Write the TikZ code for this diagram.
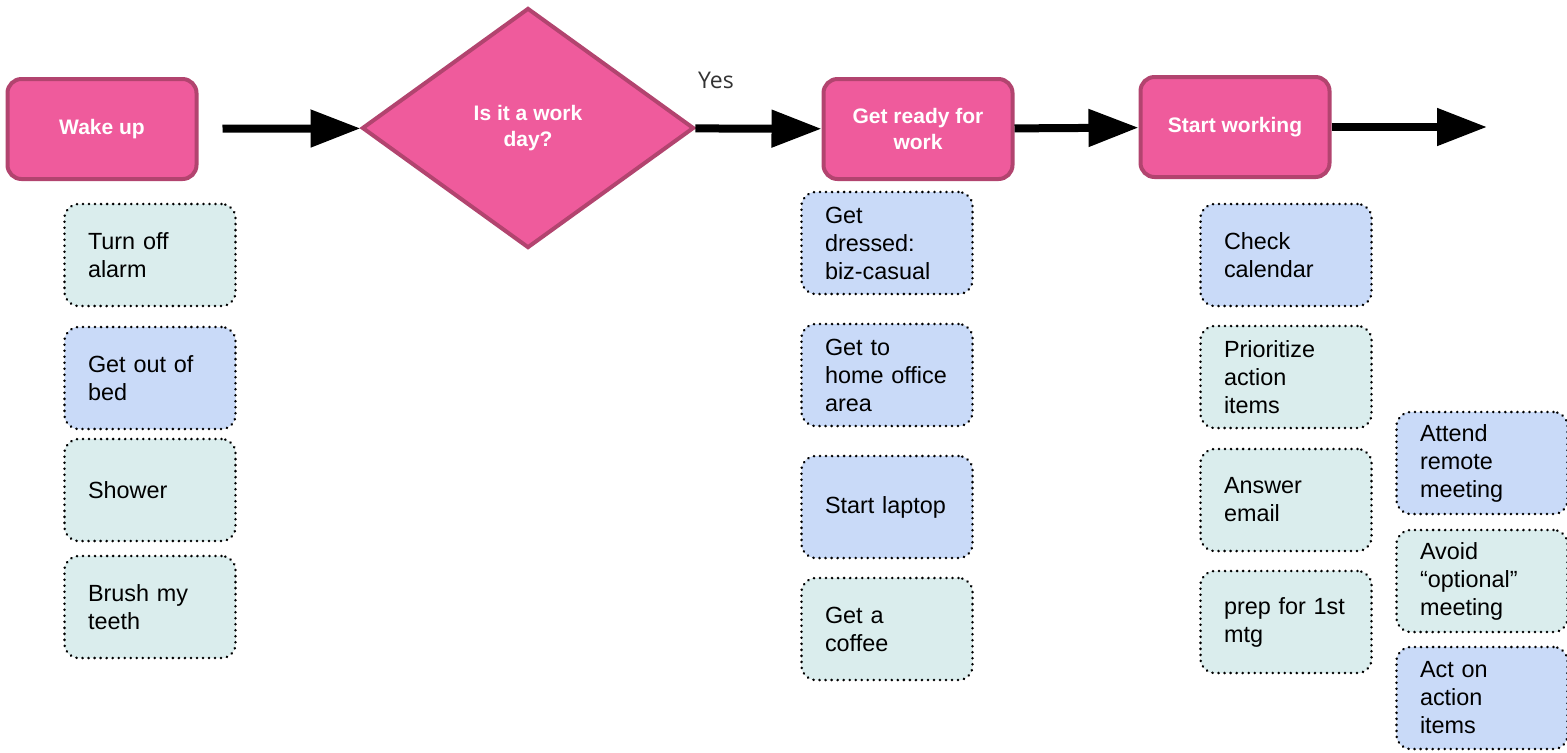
\documentclass[tikz,border=0pt]{standalone}
\usepackage{fontspec}
\setmainfont{Liberation Sans}
\newfontfamily\labelfont{Open Sans}
\usetikzlibrary{shapes.geometric,arrows.meta}
\definecolor{cpink}{HTML}{EF5B9C}
\definecolor{cpinkdark}{HTML}{B2446F}
\definecolor{cteal}{HTML}{DAEDED}
\definecolor{cblue}{HTML}{C9DAF8}

\begin{document}
\begin{tikzpicture}[
  x=0.5pt,y=-0.5pt,
  step box/.style={draw=cpinkdark,line width=2pt,fill=cpink,rounded corners=7pt,
    minimum width=94.5pt,minimum height=50pt,align=center,text=white,
    font=\fontsize{10.5}{13}\selectfont\bfseries},
  decision/.style={diamond,draw=cpinkdark,line width=2pt,fill=cpink,
    minimum width=166pt,minimum height=120pt,inner sep=0pt,align=center,text=white,
    font=\fontsize{10.5}{13}\selectfont\bfseries},
  note/.style={draw,line width=1.4pt,dash pattern=on 0.01pt off 3pt,line cap=round,
    rounded corners=7pt,minimum width=85.5pt,minimum height=51pt,
    inner xsep=11.5pt,text width=62pt,align=left,
    font=\fontsize{11.7}{14}\selectfont},
  tealnote/.style={note,fill=cteal},
  bluenote/.style={note,fill=cblue},
  flow/.style={line width=4pt,-{Triangle[length=25pt,width=18pt]}}]
  \useasboundingbox (0,0) rectangle (1567,752);

  \node[step box] (wake) at (102,129) {Wake up};
  \node[decision] (workday) at (528,128) {Is it a work\\day?};
  \node[step box] (ready) at (918,129) {Get ready for\\work};
  \node[step box] (working) at (1235,127) {Start working};
  \coordinate (next) at (1487,127);
  \node[font=\labelfont\fontsize{11.5}{14}\selectfont,text=black!80] (yes) at (716,80) {Yes};

  \draw[flow,shorten <=12pt] (wake) -- (workday);
  \draw[flow] (workday) -- (ready);
  \draw[flow] (ready) -- (working);
  \draw[flow] (working) -- (next);

  \node[tealnote] (alarm) at (150,255) {Turn off\\alarm};
  \node[bluenote] (bed) at (150,378) {Get out of\\bed};
  \node[tealnote] (shower) at (150,490) {Shower};
  \node[tealnote] (teeth) at (150,607) {Brush my\\teeth};

  \node[bluenote] (dressed) at (887,243) {Get\\dressed:\\biz-casual};
  \node[bluenote] (office) at (887,375) {Get to\\home office\\area};
  \node[bluenote] (laptop) at (887,507) {Start laptop};
  \node[tealnote] (coffee) at (887,629) {Get a\\coffee};

  \node[bluenote] (calendar) at (1286,255) {Check\\calendar};
  \node[tealnote] (prioritize) at (1286,377) {Prioritize\\action\\items};
  \node[tealnote] (email) at (1286,500) {Answer\\email};
  \node[tealnote] (prep) at (1286,622) {prep for 1st\\mtg};

  \node[bluenote] (attend) at (1482,463) {Attend\\remote\\meeting};
  \node[tealnote] (optional) at (1482,581) {Avoid\\``optional''\\meeting};
  \node[bluenote] (act) at (1482,698) {Act on\\action\\items};
\end{tikzpicture}
\end{document}
